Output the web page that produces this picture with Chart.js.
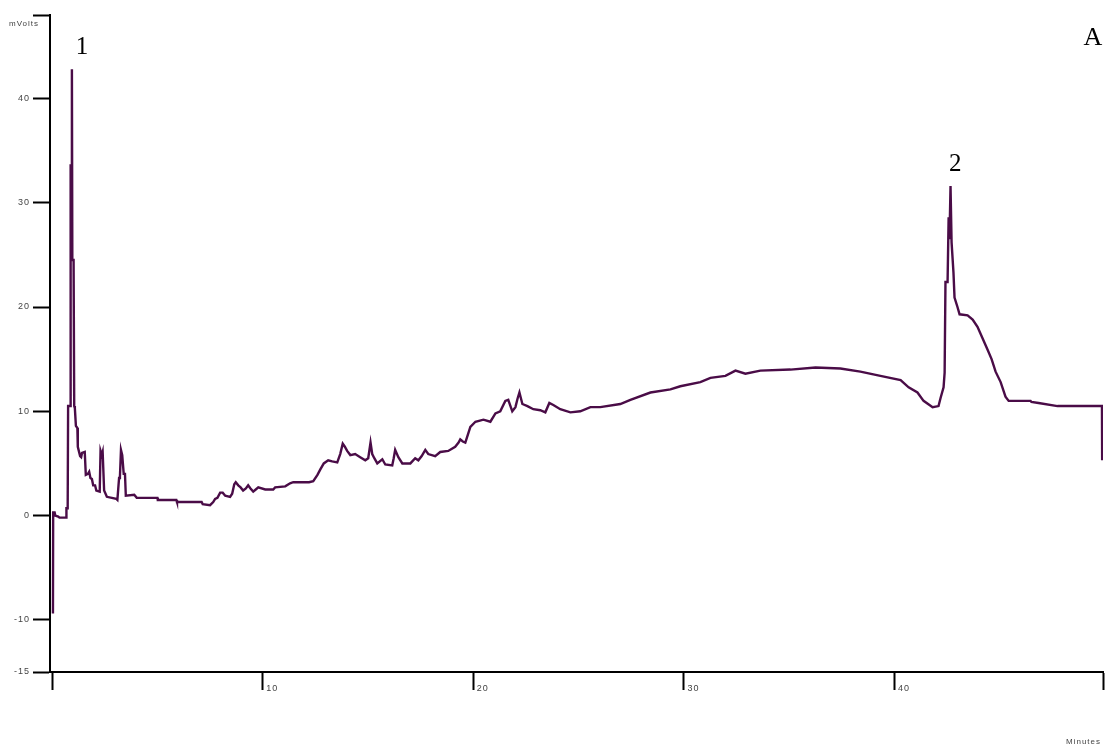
<!DOCTYPE html>
<html>
<head>
<meta charset="utf-8">
<script src="https://cdn.jsdelivr.net/npm/chart.js@4.4.1/dist/chart.umd.min.js"></script>
<style>
  html, body { margin: 0; padding: 0; background: #fff; }
  #wrap { width: 1108px; height: 749px; position: relative; }
</style>
</head>
<body>
<div id="wrap"><canvas id="chart"></canvas></div>
<script>
// retention time (minutes) and detector signal (mV)
const times = [
  0.04, 0.05, 0.12, 0.15, 0.29, 0.35, 0.66, 0.68, 0.74, 0.76,
  0.85, 0.87, 0.89, 0.91, 0.94, 0.96, 1.02, 1.05, 1.08, 1.13,
  1.20, 1.22, 1.33, 1.38, 1.42, 1.55, 1.60, 1.70, 1.76, 1.82,
  1.89, 1.95, 2.04, 2.10, 2.26, 2.30, 2.36, 2.40, 2.47, 2.60,
  3.05, 3.10, 3.18, 3.22, 3.27, 3.33, 3.40, 3.46, 3.50, 3.90,
  4.02, 5.00, 5.02, 5.90, 5.93, 7.10, 7.15, 7.50, 7.65, 7.74,
  7.85, 7.98, 8.10, 8.22, 8.45, 8.55, 8.65, 8.72, 8.84, 8.95,
  9.07, 9.20, 9.31, 9.42, 9.55, 9.67, 9.79, 10.12, 10.50, 10.59,
  11.07, 11.30, 11.45, 12.02, 12.20, 12.40, 12.60, 12.73, 12.90, 13.11,
  13.30, 13.54, 13.68, 13.80, 13.90, 14.01, 14.16, 14.39, 14.63, 14.87,
  15.01, 15.12, 15.20, 15.30, 15.44, 15.68, 15.82, 16.15, 16.22, 16.29,
  16.44, 16.63, 17.01, 17.24, 17.39, 17.55, 17.72, 17.86, 18.19, 18.43,
  18.81, 19.14, 19.30, 19.38, 19.50, 19.62, 19.86, 20.10, 20.48, 20.81,
  21.05, 21.28, 21.52, 21.66, 21.85, 22.00, 22.10, 22.19, 22.33, 22.57,
  22.85, 23.18, 23.42, 23.61, 23.80, 24.13, 24.61, 25.08, 25.56, 26.03,
  26.98, 27.46, 28.41, 29.36, 29.83, 30.78, 31.26, 31.97, 32.45, 32.92,
  33.63, 35.06, 36.25, 37.43, 38.38, 39.33, 40.29, 40.67, 41.09, 41.38,
  41.81, 42.09, 42.19, 42.33, 42.38, 42.42, 42.52, 42.57, 42.61, 42.66,
  42.71, 42.80, 42.85, 42.99, 43.09, 43.47, 43.71, 43.94, 44.18, 44.42,
  44.61, 44.80, 45.04, 45.27, 45.42, 46.46, 46.50, 46.84, 47.74, 49.85,
  49.86
];
const mvolts = [
  -9.4, 0.3, 0.3, 0.0, -0.1, -0.2, -0.2, 0.7, 0.7, 10.5,
  10.5, 33.7, 24.5, 33.5, 42.8, 24.5, 24.5, 10.5, 10.3, 8.6,
  8.4, 6.6, 5.7, 5.6, 6.0, 6.1, 3.9, 4.0, 4.2, 3.6,
  3.5, 2.9, 2.9, 2.4, 2.3, 6.2, 5.8, 6.1, 2.4, 1.8,
  1.6, 1.5, 3.6, 3.7, 6.3, 5.8, 4.0, 4.0, 1.9, 2.0,
  1.7, 1.7, 1.5, 1.5, 1.3, 1.3, 1.1, 1.0, 1.3, 1.6,
  1.7, 2.2, 2.2, 1.9, 1.8, 2.1, 3.0, 3.2, 2.9, 2.7,
  2.4, 2.6, 2.9, 2.6, 2.3, 2.5, 2.7, 2.5, 2.5, 2.7,
  2.8, 3.1, 3.2, 3.2, 3.2, 3.3, 3.9, 4.4, 5.0, 5.3,
  5.2, 5.1, 5.9, 6.9, 6.6, 6.2, 5.8, 5.9, 5.6, 5.3,
  5.5, 7.0, 5.9, 5.5, 5.0, 5.4, 4.9, 4.8, 5.5, 6.3,
  5.6, 5.0, 5.0, 5.5, 5.3, 5.7, 6.3, 5.9, 5.7, 6.1,
  6.2, 6.6, 7.0, 7.3, 7.1, 7.0, 8.5, 9.0, 9.2, 9.0,
  9.8, 10.0, 11.0, 11.1, 10.0, 10.4, 11.2, 11.8, 10.7, 10.5,
  10.2, 10.1, 9.9, 10.8, 10.6, 10.2, 9.9, 10.0, 10.4, 10.4,
  10.7, 11.1, 11.8, 12.1, 12.4, 12.8, 13.2, 13.4, 13.9, 13.6,
  13.9, 14.0, 14.2, 14.1, 13.8, 13.4, 13.0, 12.3, 11.8, 11.0,
  10.4, 10.5, 11.3, 12.3, 13.7, 22.4, 22.4, 28.6, 26.5, 31.6,
  26.2, 23.3, 20.9, 20.0, 19.3, 19.2, 18.8, 18.1, 17.0, 15.9,
  15.0, 13.8, 12.8, 11.4, 11.0, 11.0, 10.9, 10.8, 10.5, 10.5,
  5.3
];

const xTicks = [0, 10, 20, 30, 40, 49.9];
const xTickLabels = ['', '10', '20', '30', '40', ''];
const yTicks = [-15, -10, 0, 10, 20, 30, 40, 48];
const yTickLabels = ['-15', '-10', '0', '10', '20', '30', '40', ''];

const peakLabels = ['1', '2'];
const peakTimes = [1.42, 42.88];
const peakLevels = [44.9, 33.7];

const lineColor = '#4a0c47';

// spaced-out axis lettering like the instrument printout
const spacingPlugin = {
  id: 'spacing',
  beforeDraw(chart) { chart.ctx.letterSpacing = '1px'; },
  afterDraw(chart) { chart.ctx.letterSpacing = '0px'; }
};

const textPlugin = {
  id: 'texts',
  afterDraw(chart) {
    const ctx = chart.ctx;
    const xs = chart.scales.x, ys = chart.scales.y;
    ctx.save();
    ctx.letterSpacing = '1px';
    ctx.fillStyle = '#444';
    ctx.font = '8px "Liberation Sans", Arial, sans-serif';
    ctx.textBaseline = 'middle';
    ctx.textAlign = 'right';
    ctx.fillText('mVolts', 39, 24);
    ctx.fillText('Minutes', 1101, 742);

    ctx.letterSpacing = '0px';
    ctx.fillStyle = '#000';
    ctx.font = '25px "Liberation Serif", "Times New Roman", serif';
    ctx.textAlign = 'center';
    peakLabels.forEach((lab, i) => {
      ctx.fillText(lab, xs.getPixelForValue(peakTimes[i]), ys.getPixelForValue(peakLevels[i]));
    });
    ctx.font = '26px "Liberation Serif", "Times New Roman", serif';
    ctx.fillText('A', 1093, 38);
    ctx.restore();
  }
};

new Chart(document.getElementById('chart'), {
  type: 'line',
  data: {
    datasets: [{
      data: times.map((t, i) => ({ x: t, y: mvolts[i] })),
      borderColor: lineColor,
      borderWidth: 2.4,
      pointRadius: 0,
      fill: false,
      tension: 0
    }]
  },
  options: {
    responsive: true,
    maintainAspectRatio: false,
    animation: false,
    layout: { padding: { top: 15, right: 5, left: 0, bottom: 0 } },
    plugins: {
      legend: { display: false },
      tooltip: { enabled: false }
    },
    scales: {
      x: {
        type: 'linear',
        min: -0.1,
        max: 49.9,
        afterBuildTicks: s => { s.ticks = xTicks.map(v => ({ value: v })); },
        afterFit: s => { s.height = 77; },
        ticks: {
          autoSkip: false,
          maxRotation: 0,
          align: 'start',
          padding: -7,
          color: '#444',
          font: { size: 9, family: '"Liberation Sans", Arial, sans-serif' },
          callback: (v, i) => xTickLabels[i] ? ' ' + xTickLabels[i] : ''
        },
        grid: { drawOnChartArea: false, tickLength: 18, tickWidth: 2, tickColor: '#000' },
        border: { color: '#000', width: 2 }
      },
      y: {
        min: -15,
        max: 48,
        afterBuildTicks: s => { s.ticks = yTicks.map(v => ({ value: v })); },
        afterFit: s => { s.width = 50; },
        ticks: {
          autoSkip: false,
          padding: 3,
          color: '#444',
          font: { size: 9, family: '"Liberation Sans", Arial, sans-serif' },
          callback: (v, i) => yTickLabels[i]
        },
        grid: { drawOnChartArea: false, tickLength: 17, tickWidth: 2, tickColor: '#000' },
        border: { color: '#000', width: 2 }
      }
    }
  },
  plugins: [spacingPlugin, textPlugin]
});
</script>
</body>
</html>
